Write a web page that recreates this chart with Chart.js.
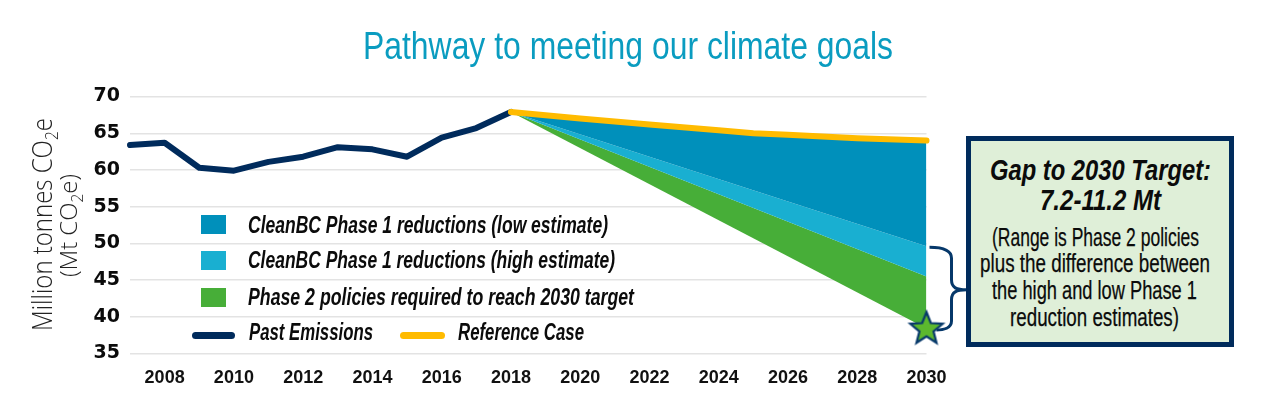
<!DOCTYPE html>
<html><head><meta charset="utf-8">
<script src="https://cdn.jsdelivr.net/npm/chart.js@4"></script>
<style>
html,body{margin:0;padding:0;background:#fff;width:1268px;height:409px;overflow:hidden}
#wrap{position:relative;width:1268px;height:409px}
canvas{position:absolute;left:0;top:0}
.t{position:absolute;white-space:nowrap;color:#0b0b0b;line-height:1;transform-origin:0 50%;font-family:"Liberation Sans",sans-serif;z-index:2}
.leg{font-size:24px;font-style:italic;font-weight:bold}
.gap{font-size:30px;font-style:italic;font-weight:bold}
.body{font-size:25px;-webkit-text-stroke:.25px #0b0b0b}
.sw{position:absolute;width:25px;height:19px}
.ln{position:absolute;height:7px;border-radius:3.5px}
#box{position:absolute;left:966px;top:136px;width:258px;height:201px;border:5px solid #002b5c;background:#dfefd8}
.yt{position:absolute;font:300 27px "Open Sans",sans-serif;color:#222;white-space:nowrap;line-height:1;transform-origin:0 0}
sub{font-size:65%;line-height:0}
</style></head><body><div id="wrap">
<canvas id="c" width="1268" height="409"></canvas>
<div class="t" data-w="530" style="left:363px;top:27px;font-size:38px;color:#0a9cc0">Pathway to meeting our climate goals</div>
<div class="yt" data-h="213" style="left:28px;top:331px">Million tonnes CO<sub>2</sub>e</div>
<div class="yt" data-h="103" style="left:56px;top:277px;font-size:24px">(Mt CO<sub>2</sub>e)</div>
<div class="sw" style="left:201px;top:215px;background:#0090bb"></div>
<div class="sw" style="left:201px;top:251px;background:#19afd1"></div>
<div class="sw" style="left:201px;top:288px;background:#47ae38"></div>
<div class="ln" style="left:192px;top:332px;width:43px;background:#002b5c"></div>
<div class="ln" style="left:400px;top:332px;width:45px;background:#ffbb00"></div>
<div class="t leg" data-w="360" style="left:248px;top:213px">CleanBC Phase 1 reductions (low estimate)</div>
<div class="t leg" data-w="367" style="left:248px;top:248px">CleanBC Phase 1 reductions (high estimate)</div>
<div class="t leg" data-w="386" style="left:248px;top:285px">Phase 2 policies required to reach 2030 target</div>
<div class="t leg" data-w="124" style="left:249px;top:320px">Past Emissions</div>
<div class="t leg" data-w="126" style="left:458px;top:320px">Reference Case</div>
<div id="box"></div>
<div class="t gap" data-w="221" style="left:990px;top:155px">Gap to 2030 Target:</div>
<div class="t gap" data-w="121" style="left:1040px;top:185px">7.2-11.2 Mt</div>
<div class="t body" data-w="207" style="left:992px;top:225px">(Range is Phase 2 policies</div>
<div class="t body" data-w="230" style="left:980px;top:251px">plus the difference between</div>
<div class="t body" data-w="205" style="left:992px;top:278px">the high and low Phase 1</div>
<div class="t body" data-w="169" style="left:1010px;top:305px">reduction estimates)</div>
</div>
<script>
const pastYears=[2007,2008,2009,2010,2011,2012,2013,2014,2015,2016,2017,2018];
const pastValues=[63.4,63.7,60.3,59.9,61.1,61.8,63.1,62.8,61.8,64.4,65.7,67.9];
const refYears=[2018,2020,2022,2024,2025,2026,2028,2030];
const refValues=[67.9,67.0,66.2,65.4,65.0,64.8,64.3,64.0];
const estYears=[2018,2030];
const lowValues=[67.9,49.6];
const highValues=[67.9,45.5];
const targetValues=[67.9,38.4];
const targetYear=2030, targetValue=38.4;
const xy=(xs,ys)=>xs.map((x,i)=>({x,y:ys[i]}));

const star=document.createElement('canvas');star.width=40;star.height=40;
(function(){const g=star.getContext('2d');g.beginPath();
for(let i=0;i<10;i++){const r=i%2?7.4:17,a=-Math.PI/2+i*Math.PI/5;g.lineTo(20+r*Math.cos(a),20.5+r*Math.sin(a));}
g.closePath();g.fillStyle='#5cb82e';g.fill();g.lineWidth=2.2;g.strokeStyle='#06386a';g.lineJoin='miter';g.stroke();})();

const bracket={id:'bracket',afterDatasetsDraw(ch){
 const g=ch.ctx,X=ch.scales.x.getPixelForValue(2030),Y=ch.scales.y;
 const t=Y.getPixelForValue(lowValues[1]),b=Y.getPixelForValue(targetValue)+1.5,m=t+(b-t)*0.52;
 g.save();g.strokeStyle='#06386a';g.lineWidth=3;g.beginPath();
 g.moveTo(X+3,t+1);g.bezierCurveTo(X+12,t+1,X+25,t+2,X+25,t+12);
 g.lineTo(X+25,m-10);g.bezierCurveTo(X+25,m-2,X+30,m,X+40,m);
 g.bezierCurveTo(X+30,m,X+25,m+2,X+25,m+10);
 g.lineTo(X+25,b-9);g.bezierCurveTo(X+25,b-2,X+17,b,X+10,b);
 g.stroke();g.restore();
}};

new Chart(document.getElementById('c'),{
 type:'line',
 data:{datasets:[
  {label:'Reference Case',data:xy(refYears,refValues),borderColor:'#ffbb00',borderWidth:6,borderCapStyle:'round',pointRadius:0,fill:{target:1},backgroundColor:'#0090bb',order:1},
  {label:'CleanBC Phase 1 reductions (low estimate)',data:xy(estYears,lowValues),borderColor:'#0090bb',borderWidth:0,pointRadius:0,fill:{target:2},backgroundColor:'#19afd1',order:3},
  {label:'CleanBC Phase 1 reductions (high estimate)',data:xy(estYears,highValues),borderColor:'#19afd1',borderWidth:0,pointRadius:0,fill:{target:3},backgroundColor:'#47ae38',order:4},
  {label:'Phase 2 policies required to reach 2030 target',data:xy(estYears,targetValues),borderColor:'#47ae38',borderWidth:0,pointRadius:0,fill:false,order:5},
  {label:'Past Emissions',data:xy(pastYears,pastValues),borderColor:'#002b5c',borderWidth:6,borderCapStyle:'round',borderJoinStyle:'round',pointRadius:0,fill:false,order:2},
  {label:'2030 target',data:[{x:targetYear,y:targetValue}],pointStyle:star,pointRadius:20,borderWidth:0,showLine:false,clip:false,order:0}
 ]},
 plugins:[bracket],
 options:{
  responsive:false,animation:false,clip:false,
  layout:{padding:{top:96.5,right:341.5,left:0,bottom:0}},
  plugins:{legend:{display:false},title:{display:false},tooltip:{enabled:false}},
  scales:{
   x:{type:'linear',min:2007,max:2030,
    afterFit(s){s.height=55.5;},
    grid:{display:false},border:{display:false},
    afterBuildTicks(s){s.ticks=[];for(let v=2008;v<=2030;v+=2)s.ticks.push({value:v});},
    ticks:{autoSkip:false,maxRotation:0,padding:6,color:'#111',font:{family:'"Liberation Sans",sans-serif',size:18,weight:'bold'},callback:v=>String(v)}},
   y:{min:35,max:70,
    afterFit(s){s.width=130;},
    grid:{color:'#e3e3e3',lineWidth:1.4,drawTicks:false},border:{display:false},
    ticks:{stepSize:5,padding:10,color:'#0b0b0b',font:{family:'"DejaVu Sans",sans-serif',size:19,weight:'bold'}}}
  }
 }
});
document.fonts.ready.then(()=>{
 document.querySelectorAll('.t[data-w]').forEach(e=>{const w=e.getBoundingClientRect().width;e.style.transform='scaleX('+(+e.dataset.w/w)+')';});
 document.querySelectorAll('.yt').forEach(e=>{const w=e.getBoundingClientRect().width;e.style.transform='rotate(-90deg) scaleX('+(+e.dataset.h/w)+')';});
});
</script></body></html>
